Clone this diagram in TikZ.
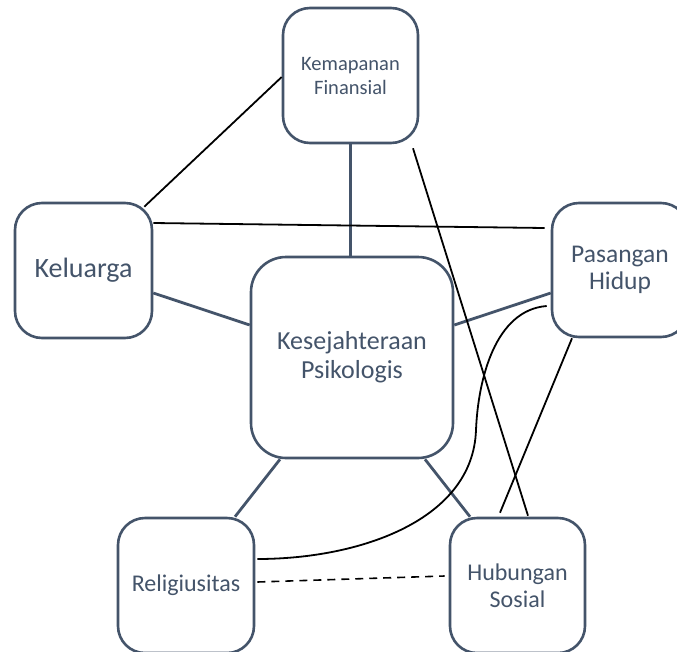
\documentclass[tikz,border=0pt]{standalone}
\usepackage{fontspec}
\setmainfont{Carlito}
\usetikzlibrary{calc}
\definecolor{slate}{HTML}{44546A}
\begin{document}
\begin{tikzpicture}[x=1pt,y=-1pt,
  box/.style={draw=slate,line width=2.6pt,rounded corners=27pt,fill=white,
    text=slate,align=center,inner sep=0pt},
  sl/.style={draw=slate,line width=2.8pt},
  bl/.style={draw=black,line width=1.8pt}]
\useasboundingbox (0,0) rectangle (677,651);
\clip (0,0) rectangle (677,651);
\node[box,minimum width=135pt,minimum height=135pt,font=\fontsize{20.5}{24}\selectfont] (kem) at (350.5,75.5) {Kemapanan\\Finansial};
\node[box,minimum width=137pt,minimum height=135pt,font=\fontsize{28}{32}\selectfont] (kel) at (83.5,270.5) {Keluarga};
\node[box,minimum width=136pt,minimum height=134pt,font=\fontsize{25.5}{27}\selectfont] (pas) at (620,270) {Pasangan\\Hidup};
\node[box,rounded corners=35pt,minimum width=202pt,minimum height=201pt,font=\fontsize{26}{29}\selectfont] (kes) at (352,357.5) {Kesejahteraan\\Psikologis};
\node[box,minimum width=136pt,minimum height=135pt,font=\fontsize{24}{28}\selectfont] (rel) at (186,585.5) {Religiusitas};
\node[box,minimum width=135pt,minimum height=135pt,font=\fontsize{24}{27}\selectfont] (hub) at (517.5,585.5) {Hubungan\\Sosial};
% slate connectors
\draw[sl] (kem.south) -- (kem.south |- kes.north);
\draw[sl] ([yshift=-22.5pt]kel.east) -- ([yshift=32.5pt]kes.west);
\draw[sl] ([yshift=-23pt]pas.west) -- ([yshift=32.5pt]kes.east);
\draw[sl] ([xshift=-72pt]kes.south) -- ([xshift=49pt]rel.north);
\draw[sl] ([xshift=73pt]kes.south) -- ([xshift=-47.5pt]hub.north);
% black connectors
\draw[bl] ([yshift=-1.5pt]kem.west) -- ([xshift=-9pt,yshift=-5pt]kel.north east);
\draw[bl] ([yshift=47.5pt]kel.east) -- ([xshift=-6pt,yshift=42pt]pas.west);
\draw[bl] ([xshift=62.5pt,yshift=-4pt]kem.south) -- ([xshift=10.5pt,yshift=1pt]hub.north);
\draw[bl] ([xshift=-48pt]pas.south) -- ([xshift=-17.5pt,yshift=4pt]hub.north);
\coordinate (cm) at (476,430);
\draw[bl] ([xshift=-4pt,yshift=-36pt]pas.west) .. controls (495,310) and (478,380) .. (cm)
  .. controls (473,520) and (360,559) .. ([xshift=2pt,yshift=26.5pt]rel.east);
\draw[bl,line width=1.6pt,dash pattern=on 8pt off 6pt] ([xshift=2pt,yshift=3.5pt]rel.east) -- ([xshift=-4pt,yshift=9.5pt]hub.west);
\end{tikzpicture}
\end{document}
